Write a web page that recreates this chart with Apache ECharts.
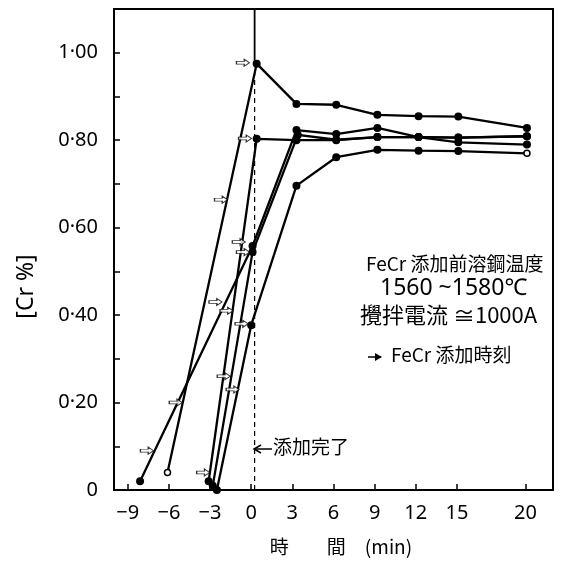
<!DOCTYPE html>
<html><head><meta charset="utf-8">
<script src="https://cdn.jsdelivr.net/npm/echarts@6/dist/echarts.min.js"></script>
<style>html,body{margin:0;padding:0;background:#fff}#c{width:571px;height:561px}</style>
</head><body><div id="c"></div>
<script>
// ---- data (time in min, Cr %) ----
const xTicks = [-9, -6, -3, 0, 3, 6, 9, 12, 15, 20];
const yTicks = [0, 0.2, 0.4, 0.6, 0.8, 1.0];
const run1 = [[-6.1,0.04],[0.4,0.975],[3.3,0.883],[6.2,0.881],[9.2,0.858],[12.2,0.855],[15.1,0.854],[20.1,0.828]];
const run2 = [[-3.1,0.02],[0.4,0.803],[3.3,0.80],[6.2,0.80],[9.2,0.807],[12.2,0.807],[15.1,0.806],[20.1,0.809]];
const run3 = [[-8.1,0.02],[0.1,0.558],[3.3,0.823],[6.2,0.814],[9.2,0.828],[12.2,0.807],[15.1,0.795],[20.1,0.790]];
const run4 = [[-2.8,0.01],[0.1,0.544],[3.4,0.812],[6.2,0.801],[9.2,0.807],[12.2,0.807],[15.1,0.806],[20.1,0.809]];
const run5 = [[-2.5,0.00],[0.0,0.377],[3.3,0.696],[6.2,0.761],[9.2,0.778],[12.2,0.776],[15.1,0.775],[20.1,0.770]];
// FeCr addition-time arrows (centres)
const addArrows = [[-7.6,0.09],[-5.5,0.20],[-2.2,0.664],[-2.6,0.43],[-1.8,0.41],[-2.0,0.26],[-1.35,0.23],[-3.5,0.04],[-0.7,0.38],[-0.9,0.567],[-0.6,0.544],[-0.6,0.977],[-0.45,0.804]];
const completeX = 0.25;
const yMin = 0, yMax = 1.1, xMin = -10, xMax = 22;

const chart = echarts.init(document.getElementById('c'), null, {renderer:'canvas'});
const FONT = '"Noto Sans","Noto Sans CJK JP",sans-serif';
const JP = '"Noto Sans CJK JP","Noto Sans",sans-serif';

function lineSeries(d, hollowIdx) {
  return {
    type:'line', data: d.map((p,i)=> i===hollowIdx ? {value:p, itemStyle:{color:'#fff', borderColor:'#000', borderWidth:1.5}, symbolSize:6} : p),
    symbol:'circle', symbolSize:8, showAllSymbol:true,
    lineStyle:{color:'#000', width:2.3}, itemStyle:{color:'#000'}, z:3, animation:false
  };
}

chart.setOption({
  animation:false,
  grid:{left:114, right:18, top:9, bottom:70, show:true, borderColor:'#000', borderWidth:2},
  xAxis:{type:'value', min:xMin, max:xMax, interval:1,
    axisLine:{show:true, onZero:false, lineStyle:{color:'#000', width:2}},
    splitLine:{show:false},
    axisTick:{show:true, inside:true, length:6, customValues:xTicks, lineStyle:{color:'#000', width:1.5}},
    axisLabel:{customValues:xTicks, margin:13, color:'#000', fontSize:20, fontFamily:FONT,
      formatter:v=> v<0 ? '−'+Math.abs(v) : String(v)},
    name:'時　　間　(min)', nameLocation:'middle', nameGap:47,
    nameTextStyle:{color:'#000', fontSize:19, fontFamily:JP, padding:[0,0,0,15]}
  },
  yAxis:{type:'value', min:yMin, max:yMax, interval:0.1,
    axisLine:{show:true, onZero:false, lineStyle:{color:'#000', width:2}},
    splitLine:{show:false},
    axisTick:{show:true, inside:true, length:6, lineStyle:{color:'#000', width:1.5}},
    axisLabel:{customValues:yTicks, margin:16, color:'#000', fontSize:20, fontFamily:FONT,
      formatter:v=> v===0 ? '0' : v.toFixed(2).replace('.', '·')},
    name:'[Cr %]', nameLocation:'middle', nameGap:76, nameRotate:90,
    nameTextStyle:{color:'#000', fontSize:23, fontFamily:FONT, padding:[0,0,0,-74]}
  },
  series:[
    {type:'line', data:[[completeX,yMin],[completeX,run1[1][1]]], symbol:'none',
      lineStyle:{color:'#000', width:1.2, type:[5,4]}, z:2, animation:false},
    {type:'line', data:[[completeX,run1[1][1]],[completeX,yMax]], symbol:'none',
      lineStyle:{color:'#000', width:1.8}, z:2, animation:false},
    lineSeries(run1, 0),
    lineSeries(run2, -1),
    lineSeries(run3, -1),
    lineSeries(run4, -1),
    lineSeries(run5, run5.length-1),
    {type:'scatter', data:addArrows, symbol:'path://M0,3 L9,3 L9,0 L15,5 L9,10 L9,7 L0,7 Z',
      symbolSize:[13,7], itemStyle:{color:'#fff', borderColor:'#000', borderWidth:1}, z:4, animation:false}
  ],
  graphic:[
    {type:'text', left:366, top:254, style:{text:'FeCr 添加前溶鋼温度', font:'19px '+JP, fill:'#000'}},
    {type:'text', left:380, top:277, style:{text:'1560 ~1580℃', font:'23px '+FONT, fill:'#000'}},
    {type:'text', left:360, top:304, style:{text:'攪拌電流 ≅1000A', font:'22px '+JP, fill:'#000'}},
    {type:'line', shape:{x1:368, y1:357, x2:381, y2:357}, style:{stroke:'#000', lineWidth:1.5}},
    {type:'polygon', shape:{points:[[375,353],[382,357],[375,361]]}, style:{fill:'#000'}},
    {type:'text', left:391, top:345, style:{text:'FeCr 添加時刻', font:'19px '+JP, fill:'#000'}},
    {type:'line', shape:{x1:254, y1:449, x2:272, y2:449}, style:{stroke:'#000', lineWidth:1.5}},
    {type:'polyline', shape:{points:[[261,445],[254,449],[261,453]]}, style:{stroke:'#000', lineWidth:1.5, fill:null}},
    {type:'text', left:273, top:437, style:{text:'添加完了', font:'19px '+JP, fill:'#000'}}
  ]
});
</script></body></html>
